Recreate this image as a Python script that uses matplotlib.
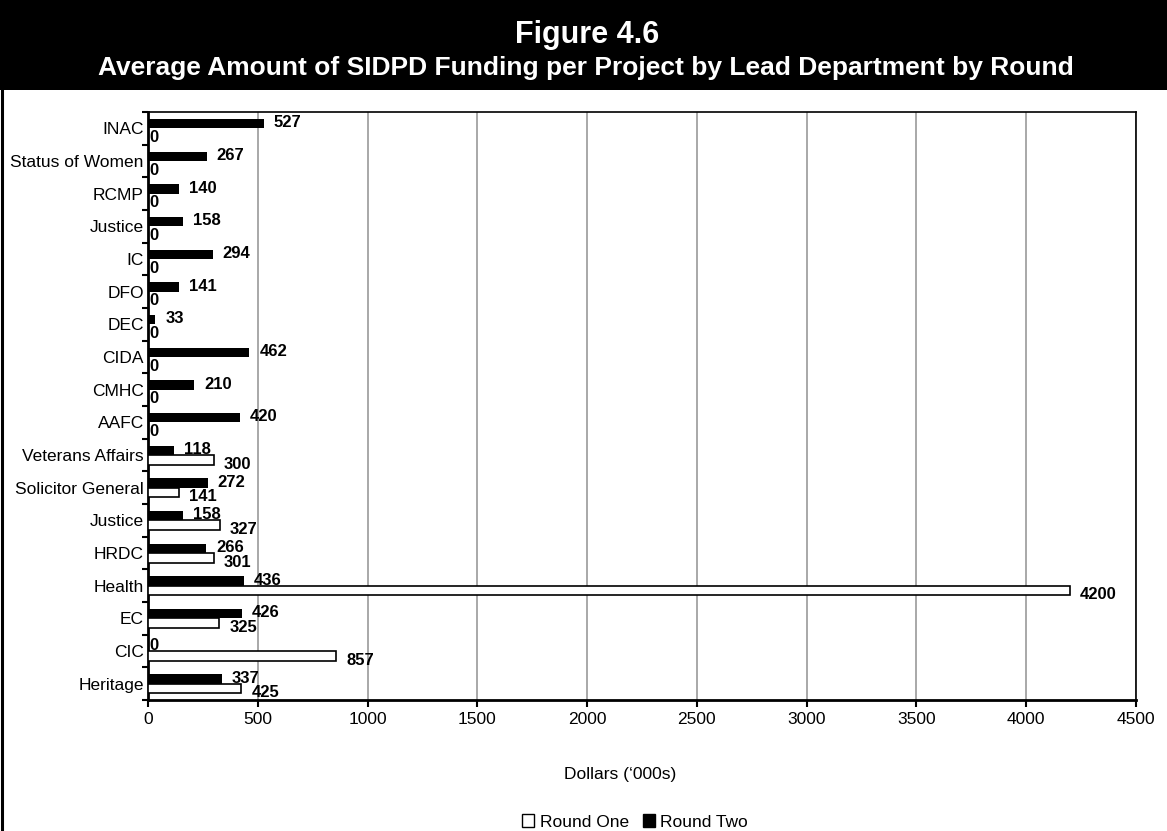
import numpy as np
import matplotlib
matplotlib.use('Agg')
import matplotlib.pyplot as plt
from matplotlib.patches import Rectangle, Patch
from matplotlib.lines import Line2D

plt.rcParams['font.family'] = ['Liberation Sans', 'DejaVu Sans']

# departments, listed top to bottom as they appear on the chart
departments = ['INAC', 'Status of Women', 'RCMP', 'Justice', 'IC', 'DFO', 'DEC',
               'CIDA', 'CMHC', 'AAFC', 'Veterans Affairs', 'Solicitor General',
               'Justice', 'HRDC', 'Health', 'EC', 'CIC', 'Heritage']
round_two = [527, 267, 140, 158, 294, 141, 33, 462, 210, 420, 118, 272, 158,
             266, 436, 426, 0, 337]
round_one = [0, 0, 0, 0, 0, 0, 0, 0, 0, 0, 300, 141, 327, 301, 4200, 325, 857, 425]
xticks = [0, 500, 1000, 1500, 2000, 2500, 3000, 3500, 4000, 4500]

W, H = 1167, 831
fig = plt.figure(figsize=(W / 100, H / 100), dpi=100)

# black banner and left rule
fig.patches.append(Rectangle((0, 1 - 90 / H), 1, 90 / H, transform=fig.transFigure,
                             facecolor='black', edgecolor='none', zorder=0))
fig.lines.append(Line2D([1.5 / W, 1.5 / W], [0, 1], transform=fig.transFigure,
                        color='black', lw=2.2))
fig.text(587 / W, 1 - 43 / H, 'Figure 4.6', color='white', fontsize=22,
         fontweight='bold', ha='center', va='baseline')
fig.text(586 / W, 1 - 75 / H,
         'Average Amount of SIDPD Funding per Project by Lead Department by Round',
         color='white', fontsize=19, fontweight='bold', ha='center', va='baseline')

ax = fig.add_axes([148 / W, 1 - 700 / H, (1136 - 148) / W, (700 - 112) / H])

n = len(departments)
pos = np.arange(n)[::-1]

ax.barh(pos + 0.14, round_two, height=0.29, color='black', zorder=3)
ax.barh(pos - 0.15, round_one, height=0.30, facecolor='white', edgecolor='black',
        lw=1.2, zorder=3)

# value labels: Round Two sits a little above its bar, Round One a little below
for y, v in zip(pos, round_two):
    ax.annotate(str(v), (v, y + 0.17), xytext=(10 if v else 1, 0),
                textcoords='offset pixels', va='center', ha='left',
                fontsize=12, fontweight='bold', zorder=4)
for y, v in zip(pos, round_one):
    ax.annotate(str(v), (v, y - 0.28), xytext=(10 if v else 1, 0),
                textcoords='offset pixels', va='center', ha='left',
                fontsize=12, fontweight='bold', zorder=4)

ax.set_xlim(0, 4500)
ax.set_ylim(-0.5, n - 0.5)
ax.set_xticks(xticks)
ax.set_xticklabels([str(t) for t in xticks], fontsize=12.5)
ax.set_yticks(pos)
ax.set_yticklabels(departments, fontsize=12.5)
ax.set_yticks(np.arange(n + 1) - 0.5, minor=True)
ax.tick_params(axis='y', which='major', length=0, pad=3)
ax.tick_params(axis='y', which='minor', length=4, width=1.5, direction='out')
ax.tick_params(axis='x', length=5, width=1.5, direction='out', pad=4)

ax.grid(axis='x', color='#999999', lw=1.2, zorder=0)
ax.set_axisbelow(True)
for side in ['left', 'bottom']:
    ax.spines[side].set_linewidth(2)
for side in ['top', 'right']:
    ax.spines[side].set_linewidth(1.2)

fig.text(620 / W, 1 - 775 / H, 'Dollars (\u2018000s)', fontsize=12.5,
         ha='center', va='center')

handles = [Patch(facecolor='white', edgecolor='black', lw=1),
           Patch(facecolor='black', edgecolor='black', lw=1)]
fig.legend(handles, ['Round One', 'Round Two'], loc='center',
           bbox_to_anchor=(635 / W, 1 - 822 / H), ncol=2, frameon=False,
           fontsize=12.5, handlelength=0.7, handleheight=0.7, handletextpad=0.3,
           columnspacing=0.8)

fig.savefig('out.png', dpi=100)
